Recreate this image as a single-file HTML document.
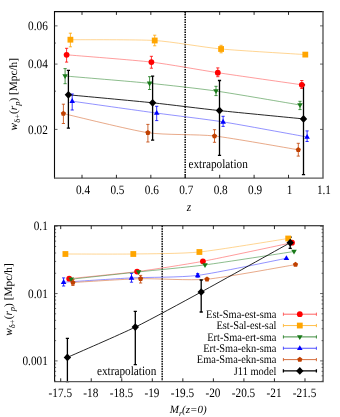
<!DOCTYPE html>
<html><head><meta charset="utf-8"><title>chart</title>
<style>html,body{margin:0;padding:0;background:#fff;}body{width:340px;height:417px;overflow:hidden;font-family:"Liberation Serif",serif;}</style>
</head><body>
<svg width="340" height="417" viewBox="0 0 340 417" style="display:block;will-change:transform" text-rendering="geometricPrecision">
<rect width="340" height="417" fill="#ffffff"/>
<g id="top">
<path d="M185.2,11.6 L185.2,178.1" stroke="#111" stroke-width="1.6" stroke-dasharray="1.5,1.0" fill="none"/>
<path d="M66.60,54.80 C75.93,55.60 134.77,60.13 151.40,62.10 C168.03,64.07 201.26,70.20 217.80,72.70 C234.34,75.20 292.56,83.47 301.80,84.80" stroke="#ff5a5a" stroke-width="0.6" fill="none"/>
<path d="M70.40,39.70 C79.67,39.79 138.12,39.48 154.70,40.50 C171.28,41.52 204.53,47.45 221.10,49.00 C237.67,50.55 296.04,53.98 305.30,54.60" stroke="#ffb84a" stroke-width="0.6" fill="none"/>
<path d="M65.10,76.00 C74.39,76.80 133.00,81.65 149.60,83.30 C166.20,84.95 199.46,88.61 216.00,91.00 C232.54,93.39 290.76,103.46 300.00,105.00" stroke="#3f903f" stroke-width="0.6" fill="none"/>
<path d="M72.20,101.20 C81.50,102.51 140.10,110.82 156.70,113.10 C173.30,115.38 206.56,119.27 223.10,121.90 C239.64,124.53 297.86,135.34 307.10,137.00" stroke="#4a4aff" stroke-width="0.6" fill="none"/>
<path d="M63.40,113.60 C72.69,115.70 131.28,130.24 147.90,132.70 C164.52,135.16 197.96,134.12 214.50,136.00 C231.04,137.88 289.08,148.28 298.30,149.80" stroke="#d8703a" stroke-width="0.6" fill="none"/>
<path d="M68.40,94.80 C77.66,95.68 135.98,101.06 152.60,102.80 C169.22,104.54 202.90,108.83 219.50,110.60 C236.10,112.37 294.26,117.99 303.50,118.90" stroke="#000000" stroke-width="0.85" fill="none"/>
<path d="M66.60,48.30 L66.60,62.10 M65.00,48.30 L68.20,48.30 M65.00,62.10 L68.20,62.10" stroke="#ff0000" stroke-width="0.8" fill="none"/>
<path d="M151.40,56.30 L151.40,68.20 M149.80,56.30 L153.00,56.30 M149.80,68.20 L153.00,68.20" stroke="#ff0000" stroke-width="0.8" fill="none"/>
<path d="M217.80,67.90 L217.80,76.70 M216.20,67.90 L219.40,67.90 M216.20,76.70 L219.40,76.70" stroke="#ff0000" stroke-width="0.8" fill="none"/>
<path d="M301.80,80.50 L301.80,88.50 M300.20,80.50 L303.40,80.50 M300.20,88.50 L303.40,88.50" stroke="#ff0000" stroke-width="0.8" fill="none"/>
<path d="M70.40,33.20 L70.40,46.80 M68.80,33.20 L72.00,33.20 M68.80,46.80 L72.00,46.80" stroke="#ffa500" stroke-width="0.8" fill="none"/>
<path d="M154.70,35.20 L154.70,45.80 M153.10,35.20 L156.30,35.20 M153.10,45.80 L156.30,45.80" stroke="#ffa500" stroke-width="0.8" fill="none"/>
<path d="M221.10,45.30 L221.10,52.80 M219.50,45.30 L222.70,45.30 M219.50,52.80 L222.70,52.80" stroke="#ffa500" stroke-width="0.8" fill="none"/>
<path d="M305.30,52.80 L305.30,56.40 M303.70,52.80 L306.90,52.80 M303.70,56.40 L306.90,56.40" stroke="#ffa500" stroke-width="0.8" fill="none"/>
<path d="M65.10,68.60 L65.10,83.70 M63.50,68.60 L66.70,68.60 M63.50,83.70 L66.70,83.70" stroke="#1a7a1a" stroke-width="0.8" fill="none"/>
<path d="M149.60,76.70 L149.60,89.50 M148.00,76.70 L151.20,76.70 M148.00,89.50 L151.20,89.50" stroke="#1a7a1a" stroke-width="0.8" fill="none"/>
<path d="M216.00,86.30 L216.00,95.60 M214.40,86.30 L217.60,86.30 M214.40,95.60 L217.60,95.60" stroke="#1a7a1a" stroke-width="0.8" fill="none"/>
<path d="M300.00,101.30 L300.00,109.60 M298.40,101.30 L301.60,101.30 M298.40,109.60 L301.60,109.60" stroke="#1a7a1a" stroke-width="0.8" fill="none"/>
<path d="M72.20,94.00 L72.20,110.00 M70.60,94.00 L73.80,94.00 M70.60,110.00 L73.80,110.00" stroke="#0000ff" stroke-width="0.8" fill="none"/>
<path d="M156.70,106.30 L156.70,120.60 M155.10,106.30 L158.30,106.30 M155.10,120.60 L158.30,120.60" stroke="#0000ff" stroke-width="0.8" fill="none"/>
<path d="M223.10,116.30 L223.10,126.40 M221.50,116.30 L224.70,116.30 M221.50,126.40 L224.70,126.40" stroke="#0000ff" stroke-width="0.8" fill="none"/>
<path d="M307.10,130.90 L307.10,141.50 M305.50,130.90 L308.70,130.90 M305.50,141.50 L308.70,141.50" stroke="#0000ff" stroke-width="0.8" fill="none"/>
<path d="M63.40,104.20 L63.40,123.50 M61.80,104.20 L65.00,104.20 M61.80,123.50 L65.00,123.50" stroke="#c04000" stroke-width="0.8" fill="none"/>
<path d="M147.90,124.40 L147.90,142.00 M146.30,124.40 L149.50,124.40 M146.30,142.00 L149.50,142.00" stroke="#c04000" stroke-width="0.8" fill="none"/>
<path d="M214.50,129.70 L214.50,142.30 M212.90,129.70 L216.10,129.70 M212.90,142.30 L216.10,142.30" stroke="#c04000" stroke-width="0.8" fill="none"/>
<path d="M298.30,143.30 L298.30,156.10 M296.70,143.30 L299.90,143.30 M296.70,156.10 L299.90,156.10" stroke="#c04000" stroke-width="0.8" fill="none"/>
<path d="M68.40,70.40 L68.40,128.20 M66.80,70.40 L70.00,70.40 M66.80,128.20 L70.00,128.20" stroke="#000000" stroke-width="1.3" fill="none"/>
<path d="M152.60,76.20 L152.60,140.20 M151.00,76.20 L154.20,76.20 M151.00,140.20 L154.20,140.20" stroke="#000000" stroke-width="1.3" fill="none"/>
<path d="M219.50,80.50 L219.50,155.30 M217.90,80.50 L221.10,80.50 M217.90,155.30 L221.10,155.30" stroke="#000000" stroke-width="1.3" fill="none"/>
<path d="M303.50,84.80 L303.50,174.70 M301.90,84.80 L305.10,84.80 M301.90,174.70 L305.10,174.70" stroke="#000000" stroke-width="1.3" fill="none"/>
<circle cx="66.60" cy="54.80" r="2.90" fill="#ff0000"/>
<circle cx="151.40" cy="62.10" r="2.90" fill="#ff0000"/>
<circle cx="217.80" cy="72.70" r="2.90" fill="#ff0000"/>
<circle cx="301.80" cy="84.80" r="2.90" fill="#ff0000"/>
<rect x="67.50" y="36.80" width="5.80" height="5.80" fill="#ffa500"/>
<rect x="151.80" y="37.60" width="5.80" height="5.80" fill="#ffa500"/>
<rect x="218.20" y="46.10" width="5.80" height="5.80" fill="#ffa500"/>
<rect x="302.40" y="51.70" width="5.80" height="5.80" fill="#ffa500"/>
<path d="M62.30,74.26 L67.90,74.26 L65.10,79.08 Z" fill="#1a7a1a"/>
<path d="M146.80,81.56 L152.40,81.56 L149.60,86.38 Z" fill="#1a7a1a"/>
<path d="M213.20,89.26 L218.80,89.26 L216.00,94.08 Z" fill="#1a7a1a"/>
<path d="M297.20,103.26 L302.80,103.26 L300.00,108.08 Z" fill="#1a7a1a"/>
<path d="M69.40,102.94 L75.00,102.94 L72.20,98.12 Z" fill="#0000ff"/>
<path d="M153.90,114.84 L159.50,114.84 L156.70,110.02 Z" fill="#0000ff"/>
<path d="M220.30,123.64 L225.90,123.64 L223.10,118.82 Z" fill="#0000ff"/>
<path d="M304.30,138.74 L309.90,138.74 L307.10,133.92 Z" fill="#0000ff"/>
<polygon points="63.40,110.85 66.02,112.75 65.02,115.82 61.78,115.82 60.78,112.75" fill="#c04000"/>
<polygon points="147.90,129.95 150.52,131.85 149.52,134.92 146.28,134.92 145.28,131.85" fill="#c04000"/>
<polygon points="214.50,133.25 217.12,135.15 216.12,138.22 212.88,138.22 211.88,135.15" fill="#c04000"/>
<polygon points="298.30,147.05 300.92,148.95 299.92,152.02 296.68,152.02 295.68,148.95" fill="#c04000"/>
<path d="M64.70,94.80 L68.40,90.95 L72.10,94.80 L68.40,98.65 Z" fill="#000000"/>
<path d="M148.90,102.80 L152.60,98.95 L156.30,102.80 L152.60,106.65 Z" fill="#000000"/>
<path d="M215.80,110.60 L219.50,106.75 L223.20,110.60 L219.50,114.45 Z" fill="#000000"/>
<path d="M299.80,118.90 L303.50,115.05 L307.20,118.90 L303.50,122.75 Z" fill="#000000"/>
<path d="M54.5,178.6 L54.5,11.6 L323.5,11.6" stroke="#0a0a0a" stroke-width="1.1" fill="none"/><path d="M54.0,178.1 L323.0,178.1 L323.0,11.1" stroke="#5a5a5a" stroke-width="1.4" fill="none"/>
<path d="M54.5,129.40 L57.5,129.40 M323.0,129.40 L320.0,129.40 M54.5,64.08 L57.5,64.08 M323.0,64.08 L320.0,64.08 M54.5,25.86 L57.5,25.86 M323.0,25.86 L320.0,25.86 M54.5,91.19 L56.0,91.19 M323.0,91.19 L321.5,91.19 M54.5,43.05 L56.0,43.05 M323.0,43.05 L321.5,43.05" stroke="#333" stroke-width="0.75" fill="none"/>
<path d="M82.00,178.1 L82.00,174.79999999999998 M82.00,11.6 L82.00,14.899999999999999 M116.42,178.1 L116.42,174.79999999999998 M116.42,11.6 L116.42,14.899999999999999 M150.84,178.1 L150.84,174.79999999999998 M150.84,11.6 L150.84,14.899999999999999 M185.26,178.1 L185.26,174.79999999999998 M185.26,11.6 L185.26,14.899999999999999 M219.68,178.1 L219.68,174.79999999999998 M219.68,11.6 L219.68,14.899999999999999 M254.10,178.1 L254.10,174.79999999999998 M254.10,11.6 L254.10,14.899999999999999 M288.52,178.1 L288.52,174.79999999999998 M288.52,11.6 L288.52,14.899999999999999" stroke="#111" stroke-width="0.9" fill="none"/>
<text transform="translate(83.00,194.00) scale(0.88,1)" font-family="&quot;Liberation Serif&quot;, serif" font-size="12.8" text-anchor="middle" >0.4</text>
<text transform="translate(117.42,194.00) scale(0.88,1)" font-family="&quot;Liberation Serif&quot;, serif" font-size="12.8" text-anchor="middle" >0.5</text>
<text transform="translate(151.84,194.00) scale(0.88,1)" font-family="&quot;Liberation Serif&quot;, serif" font-size="12.8" text-anchor="middle" >0.6</text>
<text transform="translate(186.26,194.00) scale(0.88,1)" font-family="&quot;Liberation Serif&quot;, serif" font-size="12.8" text-anchor="middle" >0.7</text>
<text transform="translate(220.68,194.00) scale(0.88,1)" font-family="&quot;Liberation Serif&quot;, serif" font-size="12.8" text-anchor="middle" >0.8</text>
<text transform="translate(255.10,194.00) scale(0.88,1)" font-family="&quot;Liberation Serif&quot;, serif" font-size="12.8" text-anchor="middle" >0.9</text>
<text transform="translate(289.52,194.00) scale(0.88,1)" font-family="&quot;Liberation Serif&quot;, serif" font-size="12.8" text-anchor="middle" >1</text>
<text transform="translate(323.94,194.00) scale(0.88,1)" font-family="&quot;Liberation Serif&quot;, serif" font-size="12.8" text-anchor="middle" >1.1</text>
<text transform="translate(47.80,133.60) scale(0.88,1)" font-family="&quot;Liberation Serif&quot;, serif" font-size="12.8" text-anchor="end" >0.02</text>
<text transform="translate(47.80,68.28) scale(0.88,1)" font-family="&quot;Liberation Serif&quot;, serif" font-size="12.8" text-anchor="end" >0.04</text>
<text transform="translate(47.80,30.06) scale(0.88,1)" font-family="&quot;Liberation Serif&quot;, serif" font-size="12.8" text-anchor="end" >0.06</text>
<text transform="translate(188.40,167.60) scale(0.88,1)" font-family="&quot;Liberation Serif&quot;, serif" font-size="12.8" text-anchor="start" >extrapolation</text>
<text transform="translate(189.00,210.80) scale(0.88,1)" font-family="&quot;Liberation Serif&quot;, serif" font-size="12.8" text-anchor="middle" font-style="italic">z</text>
<text transform="translate(17.3,94.2) rotate(-90)" font-family="&quot;Liberation Serif&quot;, serif" font-size="11.3" text-anchor="middle"><tspan font-style="italic">w</tspan><tspan font-size="8.5" dy="3">δ+</tspan><tspan dy="-3">(</tspan><tspan font-style="italic">r</tspan><tspan font-style="italic" font-size="8.5" dy="3">p</tspan><tspan dy="-3">) [Mpc/h]</tspan></text>
</g>
<g id="bot">
<path d="M162.2,225.8 L162.2,381.6" stroke="#111" stroke-width="1.6" stroke-dasharray="1.5,1.0" fill="none"/>
<path d="M69.20,278.70 C76.67,277.92 122.39,273.51 137.10,271.60 C151.81,269.69 185.86,264.48 202.90,261.30 C219.94,258.12 282.20,244.75 292.00,242.70" stroke="#ff5a5a" stroke-width="0.6" fill="none"/>
<path d="M65.40,254.00 C72.87,254.00 118.56,254.22 133.30,254.00 C148.04,253.78 182.36,253.71 199.40,252.00 C216.44,250.29 278.43,239.99 288.20,238.50" stroke="#ffb84a" stroke-width="0.6" fill="none"/>
<path d="M71.20,279.20 C78.61,278.40 123.88,273.47 138.60,271.90 C153.32,270.33 187.91,267.14 205.00,264.90 C222.09,262.66 284.21,252.97 294.00,251.50" stroke="#3f903f" stroke-width="0.6" fill="none"/>
<path d="M63.60,282.20 C71.07,281.73 116.75,278.65 131.50,277.90 C146.25,277.15 180.66,277.56 197.70,275.40 C214.74,273.24 276.64,260.18 286.40,258.30" stroke="#4a4aff" stroke-width="0.6" fill="none"/>
<path d="M72.90,282.50 C80.35,282.08 125.85,279.06 140.60,278.70 C155.35,278.34 189.96,280.75 207.00,279.20 C224.04,277.65 285.76,266.21 295.50,264.60" stroke="#d8703a" stroke-width="0.6" fill="none"/>
<path d="M67.40,357.40 C74.87,354.07 120.58,334.29 135.30,327.10 C150.02,319.91 184.16,301.28 201.20,292.00 C218.24,282.72 280.41,248.12 290.20,242.70" stroke="#000000" stroke-width="0.85" fill="none"/>
<path d="M63.60,277.90 L63.60,286.00 M62.00,277.90 L65.20,277.90 M62.00,286.00 L65.20,286.00" stroke="#0000ff" stroke-width="0.8" fill="none"/>
<path d="M131.50,273.40 L131.50,282.20 M129.90,273.40 L133.10,273.40 M129.90,282.20 L133.10,282.20" stroke="#0000ff" stroke-width="0.8" fill="none"/>
<path d="M197.70,273.60 L197.70,277.20 M196.10,273.60 L199.30,273.60 M196.10,277.20 L199.30,277.20" stroke="#0000ff" stroke-width="0.8" fill="none"/>
<path d="M72.90,279.50 L72.90,285.50 M71.30,279.50 L74.50,279.50 M71.30,285.50 L74.50,285.50" stroke="#c04000" stroke-width="0.8" fill="none"/>
<path d="M140.60,275.40 L140.60,283.00 M139.00,275.40 L142.20,275.40 M139.00,283.00 L142.20,283.00" stroke="#c04000" stroke-width="0.8" fill="none"/>
<path d="M67.40,338.30 L67.40,381.60 M65.80,338.30 L69.00,338.30 M65.80,381.60 L69.00,381.60" stroke="#000000" stroke-width="1.3" fill="none"/>
<path d="M135.30,311.30 L135.30,364.60 M133.70,311.30 L136.90,311.30 M133.70,364.60 L136.90,364.60" stroke="#000000" stroke-width="1.3" fill="none"/>
<path d="M201.20,280.00 L201.20,312.00 M199.60,280.00 L202.80,280.00 M199.60,312.00 L202.80,312.00" stroke="#000000" stroke-width="1.3" fill="none"/>
<path d="M290.20,237.20 L290.20,248.30 M288.60,237.20 L291.80,237.20 M288.60,248.30 L291.80,248.30" stroke="#000000" stroke-width="1.3" fill="none"/>
<circle cx="69.20" cy="278.70" r="2.90" fill="#ff0000"/>
<circle cx="137.10" cy="271.60" r="2.90" fill="#ff0000"/>
<circle cx="202.90" cy="261.30" r="2.90" fill="#ff0000"/>
<circle cx="292.00" cy="242.70" r="2.90" fill="#ff0000"/>
<rect x="62.50" y="251.10" width="5.80" height="5.80" fill="#ffa500"/>
<rect x="130.40" y="251.10" width="5.80" height="5.80" fill="#ffa500"/>
<rect x="196.50" y="249.10" width="5.80" height="5.80" fill="#ffa500"/>
<rect x="285.30" y="235.60" width="5.80" height="5.80" fill="#ffa500"/>
<path d="M68.40,277.46 L74.00,277.46 L71.20,282.28 Z" fill="#1a7a1a"/>
<path d="M135.80,270.16 L141.40,270.16 L138.60,274.98 Z" fill="#1a7a1a"/>
<path d="M202.20,263.16 L207.80,263.16 L205.00,267.98 Z" fill="#1a7a1a"/>
<path d="M291.20,249.76 L296.80,249.76 L294.00,254.58 Z" fill="#1a7a1a"/>
<path d="M60.80,283.94 L66.40,283.94 L63.60,279.12 Z" fill="#0000ff"/>
<path d="M128.70,279.64 L134.30,279.64 L131.50,274.82 Z" fill="#0000ff"/>
<path d="M194.90,277.14 L200.50,277.14 L197.70,272.32 Z" fill="#0000ff"/>
<path d="M283.60,260.04 L289.20,260.04 L286.40,255.22 Z" fill="#0000ff"/>
<polygon points="72.90,279.75 75.52,281.65 74.52,284.72 71.28,284.72 70.28,281.65" fill="#c04000"/>
<polygon points="140.60,275.95 143.22,277.85 142.22,280.92 138.98,280.92 137.98,277.85" fill="#c04000"/>
<polygon points="207.00,276.45 209.62,278.35 208.62,281.42 205.38,281.42 204.38,278.35" fill="#c04000"/>
<polygon points="295.50,261.85 298.12,263.75 297.12,266.82 293.88,266.82 292.88,263.75" fill="#c04000"/>
<path d="M63.70,357.40 L67.40,353.55 L71.10,357.40 L67.40,361.25 Z" fill="#000000"/>
<path d="M131.60,327.10 L135.30,323.25 L139.00,327.10 L135.30,330.95 Z" fill="#000000"/>
<path d="M197.50,292.00 L201.20,288.15 L204.90,292.00 L201.20,295.85 Z" fill="#000000"/>
<path d="M286.50,242.70 L290.20,238.85 L293.90,242.70 L290.20,246.55 Z" fill="#000000"/>
<path d="M54.6,382.1 L54.6,225.8 L323.6,225.8" stroke="#0a0a0a" stroke-width="1.1" fill="none"/><path d="M54.1,381.6 L323.1,381.6 L323.1,225.3" stroke="#5a5a5a" stroke-width="1.4" fill="none"/>
<path d="M54.6,360.90 L57.6,360.90 M323.1,360.90 L320.1,360.90 M54.6,293.55 L57.6,293.55 M323.1,293.55 L320.1,293.55 M54.6,226.20 L57.6,226.20 M323.1,226.20 L320.1,226.20 M54.6,381.17 L56.1,381.17 M323.1,381.17 L321.6,381.17 M54.6,375.84 L56.1,375.84 M323.1,375.84 L321.6,375.84 M54.6,371.33 L56.1,371.33 M323.1,371.33 L321.6,371.33 M54.6,367.43 L56.1,367.43 M323.1,367.43 L321.6,367.43 M54.6,363.98 L56.1,363.98 M323.1,363.98 L321.6,363.98 M54.6,340.63 L56.1,340.63 M323.1,340.63 L321.6,340.63 M54.6,328.77 L56.1,328.77 M323.1,328.77 L321.6,328.77 M54.6,320.35 L56.1,320.35 M323.1,320.35 L321.6,320.35 M54.6,313.82 L56.1,313.82 M323.1,313.82 L321.6,313.82 M54.6,308.49 L56.1,308.49 M323.1,308.49 L321.6,308.49 M54.6,303.98 L56.1,303.98 M323.1,303.98 L321.6,303.98 M54.6,300.08 L56.1,300.08 M323.1,300.08 L321.6,300.08 M54.6,296.63 L56.1,296.63 M323.1,296.63 L321.6,296.63 M54.6,273.28 L56.1,273.28 M323.1,273.28 L321.6,273.28 M54.6,261.42 L56.1,261.42 M323.1,261.42 L321.6,261.42 M54.6,253.00 L56.1,253.00 M323.1,253.00 L321.6,253.00 M54.6,246.47 L56.1,246.47 M323.1,246.47 L321.6,246.47 M54.6,241.14 L56.1,241.14 M323.1,241.14 L321.6,241.14 M54.6,236.63 L56.1,236.63 M323.1,236.63 L321.6,236.63 M54.6,232.73 L56.1,232.73 M323.1,232.73 L321.6,232.73 M54.6,229.28 L56.1,229.28 M323.1,229.28 L321.6,229.28" stroke="#333" stroke-width="0.75" fill="none"/>
<path d="M60.71,381.6 L60.71,378.3 M60.71,225.8 L60.71,229.10000000000002 M91.24,381.6 L91.24,378.3 M91.24,225.8 L91.24,229.10000000000002 M121.78,381.6 L121.78,378.3 M121.78,225.8 L121.78,229.10000000000002 M152.31,381.6 L152.31,378.3 M152.31,225.8 L152.31,229.10000000000002 M182.85,381.6 L182.85,378.3 M182.85,225.8 L182.85,229.10000000000002 M213.38,381.6 L213.38,378.3 M213.38,225.8 L213.38,229.10000000000002 M243.92,381.6 L243.92,378.3 M243.92,225.8 L243.92,229.10000000000002 M274.45,381.6 L274.45,378.3 M274.45,225.8 L274.45,229.10000000000002 M304.99,381.6 L304.99,378.3 M304.99,225.8 L304.99,229.10000000000002" stroke="#111" stroke-width="0.9" fill="none"/>
<text transform="translate(60.31,396.70) scale(0.88,1)" font-family="&quot;Liberation Serif&quot;, serif" font-size="12.8" text-anchor="middle" >-17.5</text>
<text transform="translate(90.84,396.70) scale(0.88,1)" font-family="&quot;Liberation Serif&quot;, serif" font-size="12.8" text-anchor="middle" >-18</text>
<text transform="translate(121.38,396.70) scale(0.88,1)" font-family="&quot;Liberation Serif&quot;, serif" font-size="12.8" text-anchor="middle" >-18.5</text>
<text transform="translate(151.91,396.70) scale(0.88,1)" font-family="&quot;Liberation Serif&quot;, serif" font-size="12.8" text-anchor="middle" >-19</text>
<text transform="translate(182.45,396.70) scale(0.88,1)" font-family="&quot;Liberation Serif&quot;, serif" font-size="12.8" text-anchor="middle" >-19.5</text>
<text transform="translate(212.98,396.70) scale(0.88,1)" font-family="&quot;Liberation Serif&quot;, serif" font-size="12.8" text-anchor="middle" >-20</text>
<text transform="translate(243.52,396.70) scale(0.88,1)" font-family="&quot;Liberation Serif&quot;, serif" font-size="12.8" text-anchor="middle" >-20.5</text>
<text transform="translate(274.05,396.70) scale(0.88,1)" font-family="&quot;Liberation Serif&quot;, serif" font-size="12.8" text-anchor="middle" >-21</text>
<text transform="translate(304.59,396.70) scale(0.88,1)" font-family="&quot;Liberation Serif&quot;, serif" font-size="12.8" text-anchor="middle" >-21.5</text>
<text transform="translate(47.80,365.10) scale(0.88,1)" font-family="&quot;Liberation Serif&quot;, serif" font-size="12.8" text-anchor="end" >0.001</text>
<text transform="translate(47.80,297.75) scale(0.88,1)" font-family="&quot;Liberation Serif&quot;, serif" font-size="12.8" text-anchor="end" >0.01</text>
<text transform="translate(47.80,230.40) scale(0.88,1)" font-family="&quot;Liberation Serif&quot;, serif" font-size="12.8" text-anchor="end" >0.1</text>
<text transform="translate(96.90,374.70) scale(0.88,1)" font-family="&quot;Liberation Serif&quot;, serif" font-size="12.8" text-anchor="start" >extrapolation</text>
<text x="169.8" y="412.8" font-family="&quot;Liberation Serif&quot;, serif" font-size="11" font-style="italic">M<tspan font-size="8" dy="3">r</tspan><tspan dy="-3">(z=0)</tspan></text>
<text transform="translate(11.9,299.5) rotate(-90)" font-family="&quot;Liberation Serif&quot;, serif" font-size="11.3" text-anchor="middle"><tspan font-style="italic">w</tspan><tspan font-size="8.5" dy="3">δ+</tspan><tspan dy="-3">(</tspan><tspan font-style="italic">r</tspan><tspan font-style="italic" font-size="8.5" dy="3">p</tspan><tspan dy="-3">) [Mpc/h]</tspan></text>
<text transform="translate(276.40,317.80) scale(0.895,1)" font-family="&quot;Liberation Serif&quot;, serif" font-size="11.6" text-anchor="end" >Est-Sma-est-sma</text>
<path d="M283.4,314.20 L316.4,314.20 M283.4,312.60 L283.4,315.80 M316.4,312.60 L316.4,315.80" stroke="#ff5050" stroke-width="0.9" fill="none"/>
<circle cx="299.80" cy="314.20" r="2.90" fill="#ff0000"/>
<text transform="translate(276.40,329.15) scale(0.895,1)" font-family="&quot;Liberation Serif&quot;, serif" font-size="11.6" text-anchor="end" >Est-Sal-est-sal</text>
<path d="M283.4,325.55 L316.4,325.55 M283.4,323.95 L283.4,327.15 M316.4,323.95 L316.4,327.15" stroke="#ffb838" stroke-width="0.9" fill="none"/>
<rect x="296.90" y="322.65" width="5.80" height="5.80" fill="#ffa500"/>
<text transform="translate(276.40,340.50) scale(0.895,1)" font-family="&quot;Liberation Serif&quot;, serif" font-size="11.6" text-anchor="end" >Ert-Sma-ert-sma</text>
<path d="M283.4,336.90 L316.4,336.90 M283.4,335.30 L283.4,338.50 M316.4,335.30 L316.4,338.50" stroke="#2a802a" stroke-width="0.9" fill="none"/>
<path d="M297.00,335.16 L302.60,335.16 L299.80,339.98 Z" fill="#1a7a1a"/>
<text transform="translate(276.40,351.85) scale(0.895,1)" font-family="&quot;Liberation Serif&quot;, serif" font-size="11.6" text-anchor="end" >Ert-Sma-ekn-sma</text>
<path d="M283.4,348.25 L316.4,348.25 M283.4,346.65 L283.4,349.85 M316.4,346.65 L316.4,349.85" stroke="#4040ff" stroke-width="0.9" fill="none"/>
<path d="M297.00,349.99 L302.60,349.99 L299.80,345.17 Z" fill="#0000ff"/>
<text transform="translate(276.40,363.20) scale(0.895,1)" font-family="&quot;Liberation Serif&quot;, serif" font-size="11.6" text-anchor="end" >Ema-Sma-ekn-sma</text>
<path d="M283.4,359.60 L316.4,359.60 M283.4,358.00 L283.4,361.20 M316.4,358.00 L316.4,361.20" stroke="#d0602a" stroke-width="0.9" fill="none"/>
<polygon points="299.80,356.85 302.42,358.75 301.42,361.82 298.18,361.82 297.18,358.75" fill="#c04000"/>
<text transform="translate(276.40,374.55) scale(0.895,1)" font-family="&quot;Liberation Serif&quot;, serif" font-size="11.6" text-anchor="end" >J11 model</text>
<path d="M283.4,370.95 L316.4,370.95 M283.4,369.35 L283.4,372.55 M316.4,369.35 L316.4,372.55" stroke="#000000" stroke-width="1.3" fill="none"/>
<path d="M296.10,370.95 L299.80,367.10 L303.50,370.95 L299.80,374.80 Z" fill="#000000"/>
</g>
</svg>
</body></html>
